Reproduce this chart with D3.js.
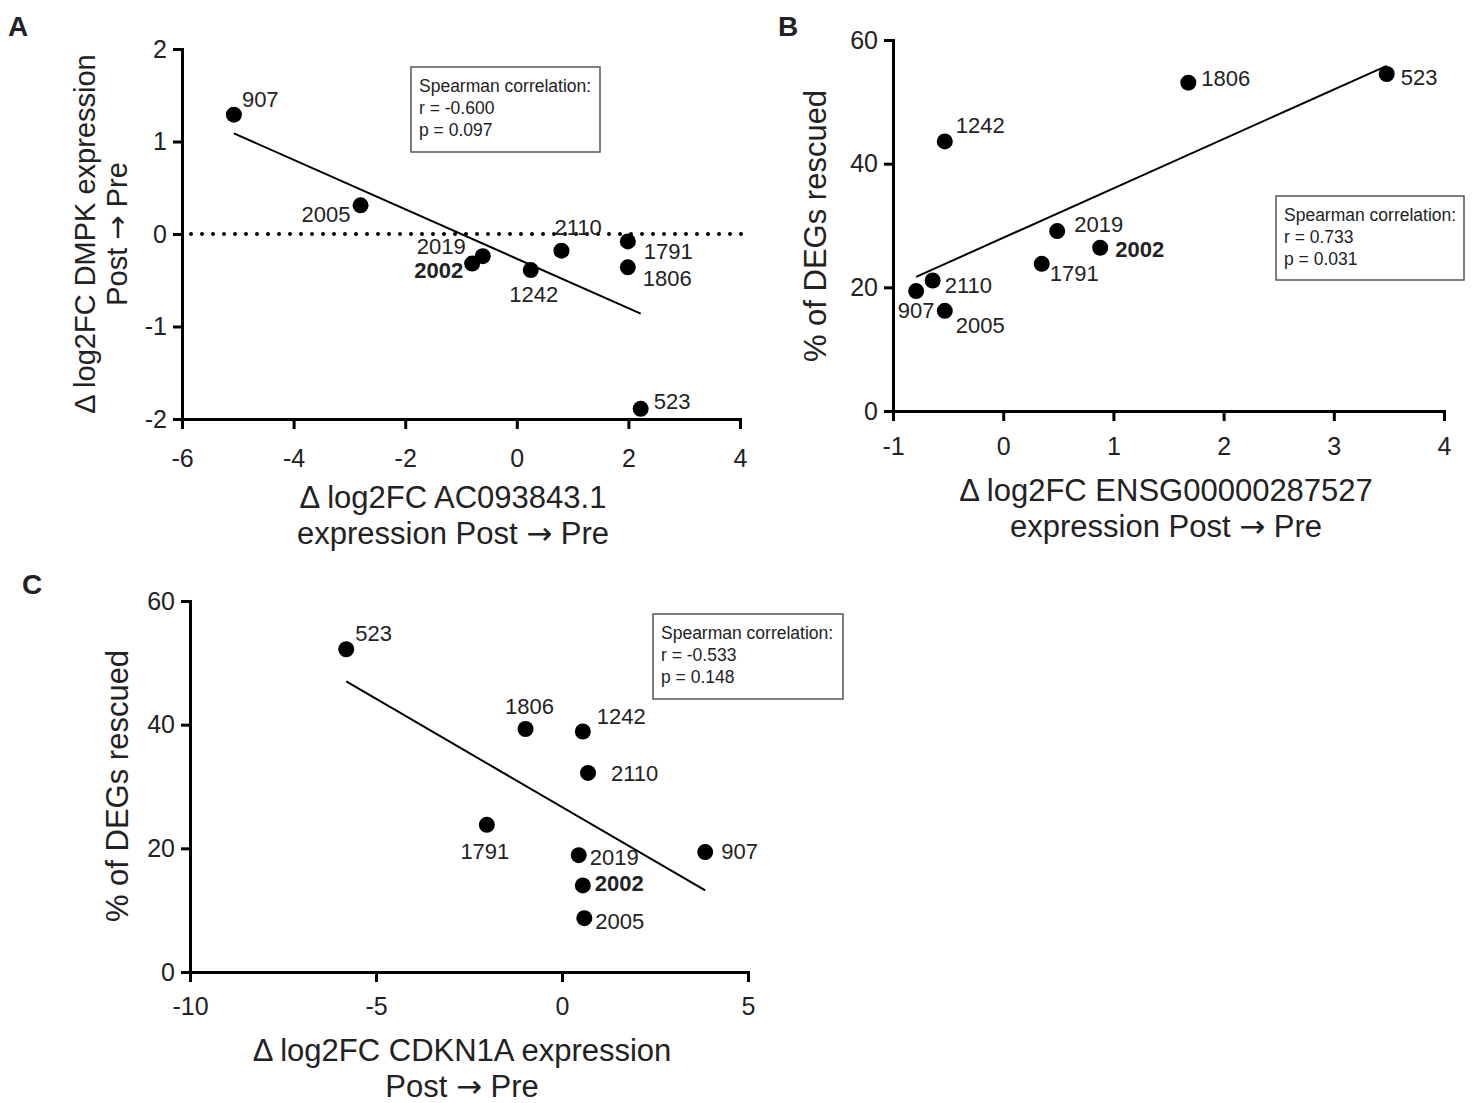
<!DOCTYPE html>
<html>
<head>
<meta charset="utf-8">
<script src="https://cdn.jsdelivr.net/npm/d3@7"></script>
<style>
  body { margin: 0; background: #fff; }
  svg { display: block; font-family: "Liberation Sans", Arial, sans-serif; }
</style>
</head>
<body>
<svg id="fig" width="1478" height="1103"></svg>
<script>
// sample ids, same order in every panel
const sampleIds = ["907", "2005", "2019", "2002", "1242", "2110", "1791", "1806", "523"];
const boldId = "2002";

// Panel A: d log2FC AC093843.1 vs d log2FC DMPK
const aX = [-5.07, -2.80, -0.61, -0.80, 0.25, 0.80, 1.99, 1.99, 2.22];
const aY = [1.29, 0.31, -0.24, -0.32, -0.39, -0.18, -0.08, -0.36, -1.89];
const aXTicks = [-6, -4, -2, 0, 2, 4];
const aYTicks = [-2, -1, 0, 1, 2];
const aStats = ["Spearman correlation:", "r = -0.600", "p = 0.097"];

// Panel B: d log2FC ENSG00000287527 vs % of DEGs rescued
const bX = [-0.79, -0.53, 0.49, 0.88, -0.53, -0.64, 0.35, 1.68, 3.48];
const bY = [19.4, 16.2, 29.1, 26.4, 43.6, 21.1, 23.8, 53.1, 54.5];
const bXTicks = [-1, 0, 1, 2, 3, 4];
const bYTicks = [0, 20, 40, 60];
const bStats = ["Spearman correlation:", "r = 0.733", "p = 0.031"];

// Panel C: d log2FC CDKN1A vs % of DEGs rescued
const cX = [3.85, 0.60, 0.45, 0.56, 0.56, 0.70, -2.02, -0.98, -5.80];
const cY = [19.4, 8.7, 18.9, 14.0, 38.9, 32.2, 23.8, 39.3, 52.2];
const cXTicks = [-10, -5, 0, 5];
const cYTicks = [0, 20, 40, 60];
const cStats = ["Spearman correlation:", "r = -0.533", "p = 0.148"];

const svg = d3.select("#fig");
const ink = "#222";

function fitLine(xs, ys) {
  const mx = d3.mean(xs), my = d3.mean(ys);
  let sxy = 0, sxx = 0;
  xs.forEach((v, i) => { sxy += (v - mx) * (ys[i] - my); sxx += (v - mx) * (v - mx); });
  const slope = sxy / sxx;
  return v => my + slope * (v - mx);
}

// the arrow in Liberation Sans is tiny, so take it from DejaVu
function fillText(sel, str) {
  const parts = str.split("\u2192");
  parts.forEach((s, i) => {
    if (i > 0) sel.append("tspan").attr("font-family", "DejaVu Sans").text("\u2192");
    sel.append("tspan").text(s);
  });
}

function drawPanel(p) {
  const g = svg.append("g");
  const x = d3.scaleLinear().domain(d3.extent(p.xTicks)).range(p.xRange);
  const y = d3.scaleLinear().domain(d3.extent(p.yTicks)).range(p.yRange);

  // panel letter
  g.append("text")
    .attr("x", p.letterPos[0]).attr("y", p.letterPos[1])
    .attr("font-size", 28).attr("font-weight", "bold").attr("fill", ink)
    .text(p.letter);

  // axes
  const xAxisG = g.append("g")
    .attr("transform", "translate(0," + p.yRange[0] + ")")
    .call(d3.axisBottom(x).tickValues(p.xTicks).tickSize(10).tickPadding(p.xPad)
      .tickSizeOuter(0).tickFormat(d => String(d)));
  const yAxisG = g.append("g")
    .attr("transform", "translate(" + p.xRange[0] + ",0)")
    .call(d3.axisLeft(y).tickValues(p.yTicks).tickSize(9).tickPadding(6)
      .tickSizeOuter(0).tickFormat(d => String(d)));

  [xAxisG, yAxisG].forEach(a => {
    a.select(".domain").attr("stroke", "#000").attr("stroke-width", 3).attr("stroke-linecap", "square");
    a.selectAll(".tick line").attr("stroke", "#000").attr("stroke-width", 3);
    a.selectAll(".tick text").attr("font-size", 25).attr("fill", ink)
      .attr("font-family", "Liberation Sans, Arial, sans-serif");
  });

  // dotted zero line
  if (p.zeroLine) {
    g.append("line")
      .attr("x1", x(p.xTicks[0]) + 9).attr("x2", x(p.xTicks[p.xTicks.length - 1]) + 12)
      .attr("y1", y(0)).attr("y2", y(0))
      .attr("stroke", "#000").attr("stroke-width", 4)
      .attr("stroke-linecap", "round").attr("stroke-dasharray", "0,11");
  }

  // regression line
  const f = fitLine(p.xs, p.ys);
  const [x0, x1] = d3.extent(p.xs);
  g.append("line")
    .attr("x1", x(x0)).attr("y1", y(f(x0)))
    .attr("x2", x(x1)).attr("y2", y(f(x1)))
    .attr("stroke", "#000").attr("stroke-width", 2);

  // points
  g.selectAll("circle.pt")
    .data(sampleIds)
    .enter().append("circle")
    .attr("class", "pt")
    .attr("cx", (d, i) => x(p.xs[i]))
    .attr("cy", (d, i) => y(p.ys[i]))
    .attr("r", 8)
    .attr("fill", "#000");

  // point labels
  g.selectAll("text.lbl")
    .data(sampleIds)
    .enter().append("text")
    .attr("class", "lbl")
    .attr("x", (d, i) => x(p.xs[i]) + p.labelPos[d][0])
    .attr("y", (d, i) => y(p.ys[i]) + p.labelPos[d][1])
    .attr("text-anchor", d => p.labelPos[d][2])
    .attr("font-size", 22)
    .attr("font-weight", d => d === boldId ? "bold" : "normal")
    .attr("fill", ink)
    .text(d => d);

  // stats box
  const bx = p.box;
  g.append("rect")
    .attr("x", bx[0]).attr("y", bx[1]).attr("width", bx[2]).attr("height", bx[3])
    .attr("fill", "#fff").attr("stroke", "#555").attr("stroke-width", 1.5);
  g.selectAll("text.stat")
    .data(p.stats)
    .enter().append("text")
    .attr("class", "stat")
    .attr("x", bx[0] + 8)
    .attr("y", (d, i) => bx[1] + 25 + i * 22)
    .attr("font-size", 17.5).attr("fill", ink)
    .text(d => d);

  // x title
  p.xTitle.forEach((t, i) => {
    const tx = g.append("text")
      .attr("x", p.xTitlePos[0]).attr("y", p.xTitlePos[1] + i * 36)
      .attr("text-anchor", "middle").attr("font-size", 31).attr("fill", ink);
    fillText(tx, t);
  });

  // y title
  p.yTitle.forEach((t, i) => {
    const ty = g.append("text")
      .attr("transform", "translate(" + (p.yTitlePos[0] + i * 32) + "," + p.yTitlePos[1] + ") rotate(-90)")
      .attr("text-anchor", "middle").attr("font-size", p.yTitleSize).attr("fill", ink);
    fillText(ty, t);
  });
}

drawPanel({
  letter: "A", letterPos: [8, 36],
  xs: aX, ys: aY, xTicks: aXTicks, yTicks: aYTicks,
  xRange: [182, 740], yRange: [419, 49], xPad: 20,
  zeroLine: true,
  stats: aStats, box: [411, 67, 189, 85],
  xTitle: ["\u0394 log2FC AC093843.1", "expression Post \u2192 Pre"], xTitlePos: [453, 508],
  yTitle: ["\u0394 log2FC DMPK expression", "Post \u2192 Pre"], yTitlePos: [95, 234], yTitleSize: 29,
  labelPos: {
    "907": [8, -8, "start"], "2005": [-10, 17, "end"], "2019": [-17, -2, "end"],
    "2002": [-9, 14, "end"], "1242": [3, 32, "middle"], "2110": [-7, -16, "start"],
    "1791": [16, 18, "start"], "1806": [15, 19, "start"], "523": [13, 0, "start"]
  }
});

drawPanel({
  letter: "B", letterPos: [778, 36],
  xs: bX, ys: bY, xTicks: bXTicks, yTicks: bYTicks,
  xRange: [893, 1444], yRange: [411, 40], xPad: 16,
  zeroLine: false,
  stats: bStats, box: [1276, 196, 188, 84],
  xTitle: ["\u0394 log2FC ENSG00000287527", "expression Post \u2192 Pre"], xTitlePos: [1166, 501],
  yTitle: ["% of DEGs rescued"], yTitlePos: [826, 226], yTitleSize: 31,
  labelPos: {
    "907": [0, 27, "middle"], "2005": [11, 22, "start"], "2019": [17, 1, "start"],
    "2002": [15, 9, "start"], "1242": [11, -8, "start"], "2110": [12, 12, "start"],
    "1791": [8, 17, "start"], "1806": [13, 3, "start"], "523": [14, 11, "start"]
  }
});

drawPanel({
  letter: "C", letterPos: [22, 594],
  xs: cX, ys: cY, xTicks: cXTicks, yTicks: cYTicks,
  xRange: [190, 748], yRange: [972, 601], xPad: 15,
  zeroLine: false,
  stats: cStats, box: [653, 614, 190, 85],
  xTitle: ["\u0394 log2FC CDKN1A expression", "Post \u2192 Pre"], xTitlePos: [462, 1061],
  yTitle: ["% of DEGs rescued"], yTitlePos: [128, 786], yTitleSize: 31,
  labelPos: {
    "907": [16, 7, "start"], "2005": [11, 11, "start"], "2019": [11, 10, "start"],
    "2002": [12, 6, "start"], "1242": [14, -7, "start"], "2110": [23, 8, "start"],
    "1791": [-2, 34, "middle"], "1806": [4, -15, "middle"], "523": [9, -8, "start"]
  }
});
</script>
</body>
</html>
